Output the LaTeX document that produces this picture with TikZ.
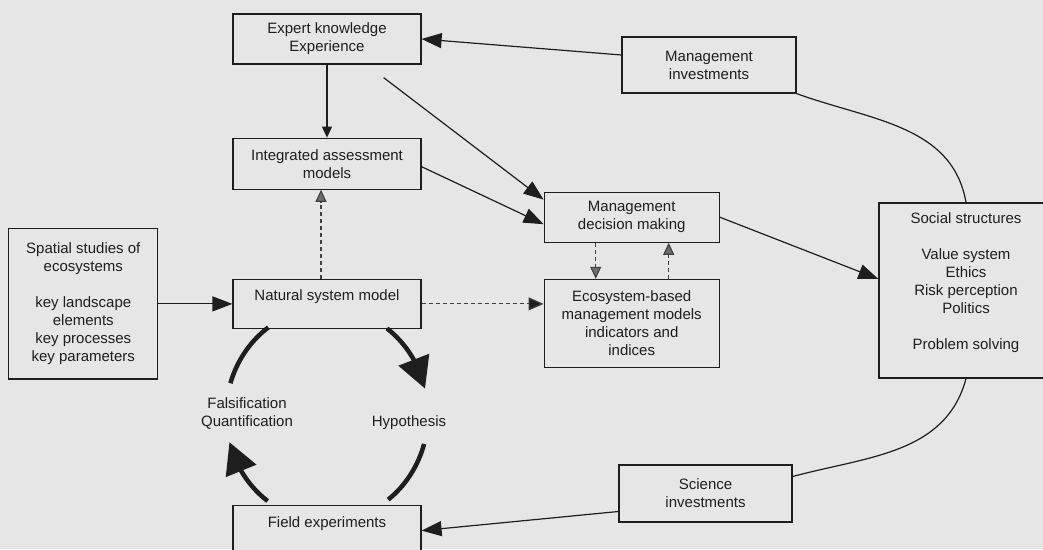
\documentclass[tikz,border=0pt]{standalone}
\usepackage{fontspec}
\setmainfont{Liberation Sans}
\usetikzlibrary{arrows.meta, positioning, bending}
\definecolor{paper}{HTML}{E6E6E6}
\definecolor{ink}{HTML}{1E1E1E}

\begin{document}
\begin{tikzpicture}[
    x=1pt, y=1pt,
    font=\fontsize{15}{18}\selectfont,
    node distance=73pt and 74pt,
    box/.style={
      draw=ink,
      line width=1.2pt,
      fill=paper,
      text=ink,
      align=center,
      inner sep=0pt
    },
    label/.style={
      align=center,
      text=ink
    },
    arrow/.style={
      -{Triangle[length=20pt,width=15pt]},
      line width=1.2pt,
      draw=ink
    },
    smallarrow/.style={
      arrow,
      -{Triangle[length=11pt,width=10pt]}
    },
    dasharrow/.style={
      -{Triangle[length=12pt,width=11pt,fill=ink!65]},
      line width=1.1pt,
      draw=ink!85,
      dash pattern=on 4pt off 3pt
    },
    cyc/.style={
      line width=4.5pt,
      draw=ink
    },
    cycarrow/.style={
      cyc,
      -{Triangle[length=31pt,width=32pt,flex]}
    },
    link/.style={
      line width=1.2pt,
      draw=ink
    }
  ]

    \useasboundingbox (0,0) rectangle (1043,549);
    \clip (0,0) rectangle (1043,549);
    \fill[paper] (0,0) rectangle (1043,549);

    % Science side
    \node[box, minimum width=188pt, minimum height=50pt] at (327,510) (expert)
      {Expert knowledge\\Experience};
    \node[box, minimum width=188pt, minimum height=51pt, below=of expert] (integrated)
      {Integrated assessment\\models};
    \node[box, minimum width=188pt, minimum height=49pt, below=89pt of integrated] (natural)
      {Natural system model\\\mbox{}};
    \node[box, minimum width=188pt, minimum height=50pt, below=176pt of natural] (field)
      {Field experiments\\\mbox{}};
    \node[box, minimum width=149pt, minimum height=150pt, left=of natural] (spatial)
      {Spatial studies of\\ecosystems\\[18pt]key landscape\\elements\\key processes\\key parameters};

    % Management side
    \node[box, minimum width=175pt, minimum height=88pt,
      right=122pt of natural.north east, anchor=north west] (eco)
      {Ecosystem-based\\management models\\indicators and\\indices};
    \node[box, minimum width=175pt, minimum height=50pt, above=36pt of eco] (mgmt)
      {Management\\decision making};
    \node[box, minimum width=174pt, minimum height=56pt] at (709,484) (minvest)
      {Management\\investments};
    \node[box, minimum width=173pt, minimum height=57pt] at (705.5,55.5) (sinvest)
      {Science\\investments};
    \node[box, minimum width=174pt, minimum height=175pt] at (966,258.5) (social)
      {Social structures\\[18pt]Value system\\Ethics\\Risk perception\\Politics\\[18pt]Problem solving\\\mbox{}};

    % Arrows
    \coordinate (ekstart) at ([xshift=-38pt, yshift=-13pt]expert.south east);
    \draw[smallarrow] (expert) -- (integrated);
    \draw[arrow] (ekstart) -- ([yshift=-8pt]mgmt.north west);
    \draw[arrow] ([yshift=-3pt]integrated.east) -- ([yshift=-7pt]mgmt.west);
    \draw[arrow] (spatial.east) -- (spatial.east -| natural.west);
    \draw[arrow] (mgmt.east) -- ([yshift=11.5pt]social.west);
    \draw[arrow] ([yshift=10pt]minvest.west) -- (expert.east);
    \draw[arrow] ([yshift=-18pt]sinvest.west) -- (field.east);

    \draw[dasharrow] ([xshift=-6pt]natural.north) -- ([xshift=-6pt]integrated.south);
    \draw[dasharrow, -{Triangle[length=15pt,width=13pt,fill=ink]}] (natural.east) -- (natural.east -| eco.west);
    \draw[dasharrow] ([xshift=-36pt]mgmt.south) -- ([xshift=-36pt]eco.north);
    \draw[dasharrow] ([xshift=37pt]eco.north) -- ([xshift=37pt]mgmt.south);

    \draw[link] (social.north) to[out=100, in=-20] (minvest.south east);
    \draw[link] (social.south) to[out=-105, in=15] ([yshift=17pt]sinvest.east);

    % Research cycle
    \coordinate (cyccentre) at (327,134.5);
    \draw[cyc] (cyccentre) ++(163:101pt and 107pt)
      arc[start angle=163, end angle=125.5, x radius=101pt, y radius=107pt];
    \draw[cycarrow] (cyccentre) ++(53.6:101pt and 107pt)
      arc[start angle=53.6, end angle=14, x radius=101pt, y radius=107pt];
    \draw[cyc] (cyccentre) ++(-16:101pt and 107pt)
      arc[start angle=-16, end angle=-52.7, x radius=101pt, y radius=107pt];
    \draw[cycarrow] (cyccentre) ++(234:101pt and 107pt)
      arc[start angle=234, end angle=195, x radius=101pt, y radius=107pt];

    \node[label] at (247,136) (falsif) {Falsification\\Quantification};
    \node[label] at (409,126) (hypo) {Hypothesis};

  \end{tikzpicture}
\end{document}
